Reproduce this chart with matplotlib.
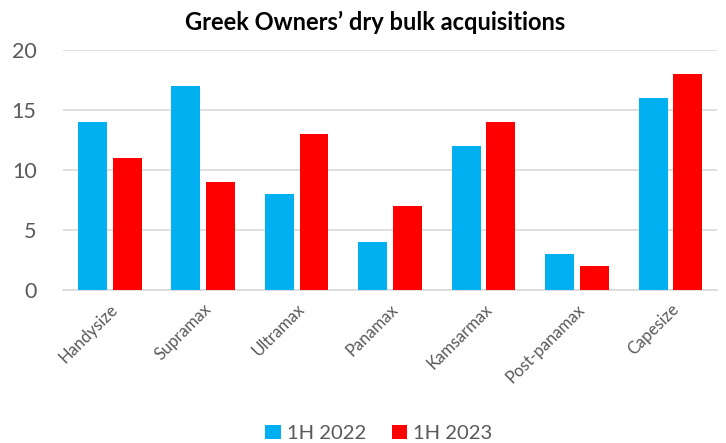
import matplotlib
matplotlib.use("Agg")
import matplotlib.pyplot as plt
import numpy as np

categories = ["Handysize", "Supramax", "Ultramax", "Panamax", "Kamsarmax", "Post-panamax", "Capesize"]
h1_2022 = [14, 17, 8, 4, 12, 3, 16]
h1_2023 = [11, 9, 13, 7, 14, 2, 18]
series_names = ["1H 2022", "1H 2023"]

plt.rcParams["font.family"] = ["Lato", "DejaVu Sans"]
text_gray = "#595959"

fig = plt.figure(figsize=(7.26, 4.43), dpi=100)
ax = fig.add_axes([0.0868, 0.3454, 0.901, 0.5416])

x = np.arange(len(categories))
w = 0.31
off = 0.186
ax.bar(x - off, h1_2022, w, color="#00B0F0", label=series_names[0], zorder=3)
ax.bar(x + off, h1_2023, w, color="#FF0000", label=series_names[1], zorder=3)

ax.set_xlim(-0.5, len(categories) - 0.5)
ax.set_ylim(0, 20)
ax.set_yticks([0, 5, 10, 15, 20])
ax.yaxis.grid(True, color="#D9D9D9", linewidth=1.2, zorder=0)
for s in ["top", "right", "left"]:
    ax.spines[s].set_visible(False)
ax.spines["bottom"].set_color("#D9D9D9")
ax.spines["bottom"].set_linewidth(1.2)
ax.tick_params(axis="both", length=0, colors=text_gray)
ax.tick_params(axis="y", labelsize=15.5, pad=19)
ax.set_xticks(x)
ax.set_xticklabels(categories, rotation=45, ha="right", rotation_mode="anchor",
                   fontsize=12, color=text_gray)
ax.tick_params(axis="x", pad=8)

fig.text(0.517, 0.95, "Greek Owners\u2019 dry bulk acquisitions", ha="center", va="center",
         fontsize=17, fontweight="bold", color="black")

fig.legend(loc="center", bbox_to_anchor=(0.522, 0.022), ncol=2, frameon=False,
           fontsize=14.5, handlelength=0.75, handleheight=0.75, handletextpad=0.3,
           columnspacing=1.3, labelcolor=text_gray)

fig.savefig("out.png", dpi=100)
